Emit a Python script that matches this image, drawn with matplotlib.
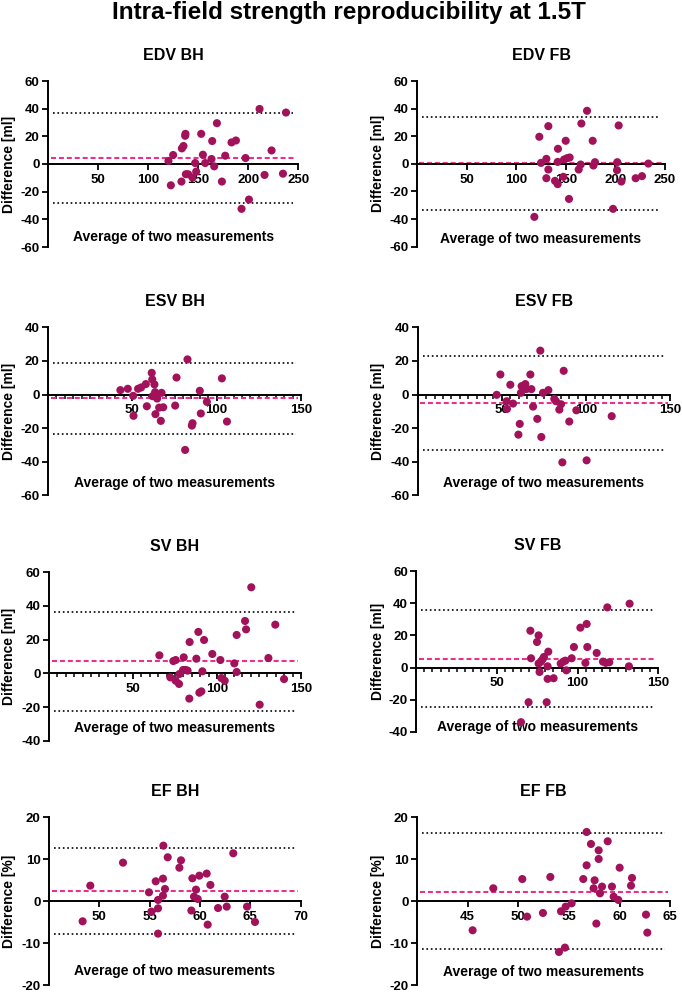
import matplotlib
matplotlib.use('Agg')
import matplotlib.pyplot as plt
from matplotlib.ticker import FixedLocator, MultipleLocator, NullLocator

plt.rcParams['font.family'] = ['Liberation Sans', 'DejaVu Sans']
plt.rcParams['font.weight'] = 'bold'
plt.rcParams['axes.unicode_minus'] = False

# ---------------- data ----------------
edv_bh_avg = [120.3, 125, 122.7, 133.3, 133.7, 135.3, 137, 137.3, 137.7, 140, 144.3, 147, 148, 153, 154.7,
              157, 163.3, 164, 166, 168.7, 173.7, 177, 183.3, 187.7, 193.3, 197.3, 200.7, 211.3, 216.3,
              223.3, 234.7, 237.7]
edv_bh_diff = [2.2, 6.5, -15.4, -12.7, 11.3, 13, 20.4, 21.8, -7.4, -7.4, -9.8, 0.7, -5.5, 21.8, 6.7,
               0.7, 3.6, 16.6, -1.7, 29.5, -12.7, 6, 15.6, 17, -32.4, 4.3, -25.7, 39.8, -7.9,
               9.8, -7, 37.2]
edv_bh_stats = [4.6, 37.2, -28.3]   # mean, upper LoA, lower LoA

edv_fb_avg = [123.3, 125, 130.4, 130.4, 132.4, 132.4, 139.1, 141.8, 142.1, 141.8, 147.5, 148.2, 149.9,
              151.2, 153.9, 153.2, 163, 165, 165.7, 171.4, 177.1, 177.8, 179.4, 197.6, 201.6, 201.9,
              203.3, 206, 220.4, 226.8, 233.2, 118.3]
edv_fb_diff = [19.6, 0.7, 3.6, -10.4, 27.3, -4.1, -12.3, -14.7, 10.9, 1.4, -9.4, 3.1, 16.7,
               4.1, 4.6, -25.4, -4.1, -0.5, 29.2, 38.4, 16.7, -1.2, 1.2, -32.6, -4.6, 1.2,
               27.8, -12.8, -10.4, -8.9, 0.2, -38.4]
edv_fb_stats = [0.7, 34.1, -33.1]

esv_bh_avg = [42.9, 47.3, 50.5, 50.7, 53.4, 55.2, 58, 58.6, 61.5, 61.8, 62, 63.1, 63.5, 63.7, 64.3,
              64.7, 65.9, 66.9, 67.3, 68.3, 75.4, 76.2, 81.3, 82.7, 85.7, 85.3, 90, 90.6, 94.2,
              103.1, 106.1]
esv_bh_diff = [2.6, 3.4, -0.8, -12.7, 3.4, 4.2, 6.2, -7, 12.9, 9, -1, 6, 1.4, -11.7, -1.4,
               -2.4, -7.8, -15.7, 1, -7.6, -6.6, 10.1, -33, 20.9, -17.1, -18.5, 2.2, -11.3, -4.4,
               9.6, -16.1]
esv_bh_stats = [-2.0, 18.9, -23.7]

esv_fb_avg = [46.9, 49.1, 52.8, 53, 55, 56.6, 59.8, 60.6, 61.3, 61.7, 63.3, 63.9, 64.5, 66.9, 67.5,
              68.5, 71, 72.8, 73.4, 74.4, 77.6, 81.1, 82.1, 84.1, 85.1, 86.7, 85.9, 90, 94.2,
              100.3, 115.2]
esv_fb_diff = [-0.2, 11.9, -4, -8.6, 5.8, -5.4, -23.9, -17.5, 1, 5, 4.2, 6.2, 3.2, 11.9, 3.2,
               -7.2, -14.5, 26.1, -25.3, 1, 2.6, -2.6, -4, -9, -5.8, 14.1, -40.4, -16.1, -9.4,
               -39.2, -12.9]
esv_fb_stats = [-4.8, 22.9, -32.8]

sv_bh_avg = [65.7, 72.2, 74, 75.4, 75.4, 77.4, 77.6, 80.2, 79.8, 81.3, 82.5, 83.7, 83.5, 87.7, 88.9,
             89.5, 90.7, 91.3, 92.3, 97.2, 102, 102.6, 104.6, 110.3, 111.7, 111.7, 116.7, 117.3,
             120.4, 125.4, 130.6, 134.7, 139.9]
sv_bh_diff = [10.7, -2.4, 7.3, 7.9, -4.4, -6.3, -0.4, 9.5, 2, 2, 1.6, 18.6, -15, 8.7, 24.6,
              -11.5, -10.7, 1.2, 19.8, 11.5, 7.9, -2.8, -4.4, 5.9, 22.8, 0.8, 31.1, 26.1,
              51.1, -18.6, 9.1, 28.9, -3.4]
sv_bh_stats = [7.3, 36.4, -22.2]

sv_fb_avg = [64.9, 69.6, 70.7, 71.1, 74.8, 75.8, 75.8, 76.4, 77.3, 78.3, 79.1, 80.8, 81.4, 81.4, 81.8,
             85.1, 89.5, 91.1, 92.4, 93, 96.3, 97.7, 101.7, 104.8, 105.6, 106, 111.8, 115.7, 117.4,
             118.4, 119.6, 132.2, 131.8]
sv_fb_diff = [-33.9, -21.5, 22.9, 5.8, 15.9, 20, 2.5, -2.7, 3.7, 5.2, 6.6, -21.5, 0.8, -7, 9.9,
              -6.6, 2.5, 3.7, 4.3, -1.7, 5.8, 12.8, 24.8, 2.9, 27.1, 12.8, 9.1, 3.7, 2.9,
              37.4, 3.3, 39.7, 0.8]
sv_fb_stats = [5.6, 35.9, -24.6]

ef_bh_avg = [48.34, 49.1, 52.35, 54.93, 55.17, 55.6, 55.83, 55.83, 55.83, 56.32, 56.32, 56.36, 56.52,
             56.79, 57.95, 58.11, 59.14, 59.24, 59.4, 59.6, 59.77, 59.93, 60.66, 60.76, 61.03, 61.79,
             62.45, 62.65, 63.3, 64.67, 65.46]
ef_bh_diff = [-4.76, 3.73, 9.2, 2.14, -2.46, 4.76, 0.32, -1.67, -7.7, 5.4, 1.35, 13.25, 2.94,
              10.48, 8.0, 9.76, -2.2, 5.48, 1.1, 2.78, 0.56, 6.1, 6.6, -5.56, 3.9, -1.6,
              1.1, -1.27, 11.43, -1.27, -4.92]
ef_bh_stats = [2.4, 12.6, -7.8]

ef_fb_avg = [45.49, 47.53, 50.39, 50.86, 52.43, 53.16, 54.01, 54.21, 54.6, 54.67, 55.26, 56.41, 56.74,
             56.74, 57.17, 57.43, 57.53, 57.7, 57.93, 57.93, 58.06, 58.26, 58.82, 59.24, 59.41, 59.87,
             60.0, 61.12, 61.22, 62.6, 62.73]
ef_fb_diff = [-6.9, 3.1, 5.3, -3.65, -2.78, 5.8, -12.06, -2.38, -11.03, -1.27, -0.48, 5.3, 8.57,
              16.5, 13.65, 3.1, 5.0, -5.3, 12.14, 10.08, 1.9, 3.5, 14.29, 3.5, 1.1, 0.32,
              8.0, 3.73, 5.56, -3.17, -7.46]
ef_fb_stats = [2.3, 16.2, -11.4]

panel_titles = ['EDV BH', 'EDV FB', 'ESV BH', 'ESV FB', 'SV BH', 'SV FB', 'EF BH', 'EF FB']
y_labels = ['Difference [ml]'] * 6 + ['Difference [%]'] * 2
x_label = 'Average of two measurements'
main_title = 'Intra-field strength reproducibility at 1.5T'

# ---------------- layout / style ----------------
W, H = 682, 992
point_color = '#a2125a'
mean_color = '#e8318d'

# (left px, right px, top px, bottom px)
boxes = [(48, 298.3, 81, 247), (417, 665, 81, 246.7),
         (48, 301, 327.3, 495.3), (417.7, 670.3, 327.3, 495.3),
         (49, 301, 572.3, 740.7), (416.3, 658.3, 571, 732),
         (49, 300.7, 817.3, 985.3), (417, 670.3, 817.3, 985.3)]
ylabel_px = [9, 378, 9, 378, 9, 378, 9, 378]
xlims = [(0, 250), (0, 250), (0, 150), (0, 150), (0, 150), (0, 150), (45, 70), (40, 65)]
ylims = [(-60, 60), (-60, 60), (-60, 40), (-60, 40), (-40, 60), (-40, 60), (-20, 20), (-20, 20)]
xsteps = [50, 50, 50, 50, 50, 50, 5, 5]
xminor = [None, None, 5, 5, 5, 5, None, None]
ysteps = [20, 20, 20, 20, 20, 20, 10, 10]
xlabel_pos = [0.062, 0.045, 0.073, 0.073, 0.075, 0.03, 0.087, 0.08]

series = [(edv_bh_avg, edv_bh_diff, edv_bh_stats), (edv_fb_avg, edv_fb_diff, edv_fb_stats),
          (esv_bh_avg, esv_bh_diff, esv_bh_stats), (esv_fb_avg, esv_fb_diff, esv_fb_stats),
          (sv_bh_avg, sv_bh_diff, sv_bh_stats), (sv_fb_avg, sv_fb_diff, sv_fb_stats),
          (ef_bh_avg, ef_bh_diff, ef_bh_stats), (ef_fb_avg, ef_fb_diff, ef_fb_stats)]

fig = plt.figure(figsize=(W / 100, H / 100), dpi=100)
fig.text(349 / W, 1 - 18.5 / H, main_title, ha='center', va='baseline',
         fontsize=17.5, fontweight='bold')

for i, (xs, ys, st) in enumerate(series):
    l, r, t, b = boxes[i]
    ax = fig.add_axes([l / W, 1 - b / H, (r - l) / W, (b - t) / H])
    ax.set_xlim(*xlims[i])
    ax.set_ylim(*ylims[i])
    for s in ['top', 'right']:
        ax.spines[s].set_visible(False)
    ax.spines['bottom'].set_position(('data', 0))
    ax.spines['left'].set_linewidth(1.4)
    ax.spines['bottom'].set_linewidth(1.4)
    ax.patch.set_alpha(0)

    x0, x1 = xlims[i]
    ax.xaxis.set_major_locator(FixedLocator(
        [x0 + xsteps[i] * k for k in range(1, int(round((x1 - x0) / xsteps[i])) + 1)]))
    if xminor[i]:
        ax.xaxis.set_minor_locator(MultipleLocator(xminor[i]))
    else:
        ax.xaxis.set_minor_locator(NullLocator())
    ax.yaxis.set_major_locator(MultipleLocator(ysteps[i]))
    ax.yaxis.set_minor_locator(NullLocator())
    ax.tick_params(axis='x', which='major', direction='out', length=4.5, width=1.3,
                   labelsize=9.5, pad=2.5)
    ax.tick_params(axis='x', which='minor', direction='out', length=2.8, width=1.1)
    ax.tick_params(axis='y', which='major', direction='out', length=4, width=1.3,
                   labelsize=9.5, pad=2)
    for lab in ax.get_xticklabels() + ax.get_yticklabels():
        lab.set_fontweight('bold')

    mean, up, lo = st
    ax.axhline(up, xmin=0.02, xmax=0.98, color='black', lw=1.2, ls=':', zorder=1)
    ax.axhline(lo, xmin=0.02, xmax=0.98, color='black', lw=1.2, ls=':', zorder=1)
    ax.axhline(mean, xmin=0.01, xmax=0.99, color=mean_color, lw=1.5,
               dashes=(2.4, 1.4), zorder=2)
    ax.scatter(xs, ys, s=34, color=point_color, edgecolors='none', zorder=4, clip_on=False)

    ax.set_ylabel(y_labels[i], fontsize=10, fontweight='bold')
    ax.yaxis.label.set_verticalalignment('center')
    ax.yaxis.set_label_coords((ylabel_px[i] - l) / (r - l), 0.5)
    ax.text(0.5, xlabel_pos[i], x_label, transform=ax.transAxes, ha='center', va='center',
            fontsize=10, fontweight='bold')
    ax.text(0.5, 1 + 26 / (b - t), panel_titles[i], transform=ax.transAxes, ha='center',
            va='center', fontsize=11.5, fontweight='bold')

fig.savefig('out.png', dpi=100)
